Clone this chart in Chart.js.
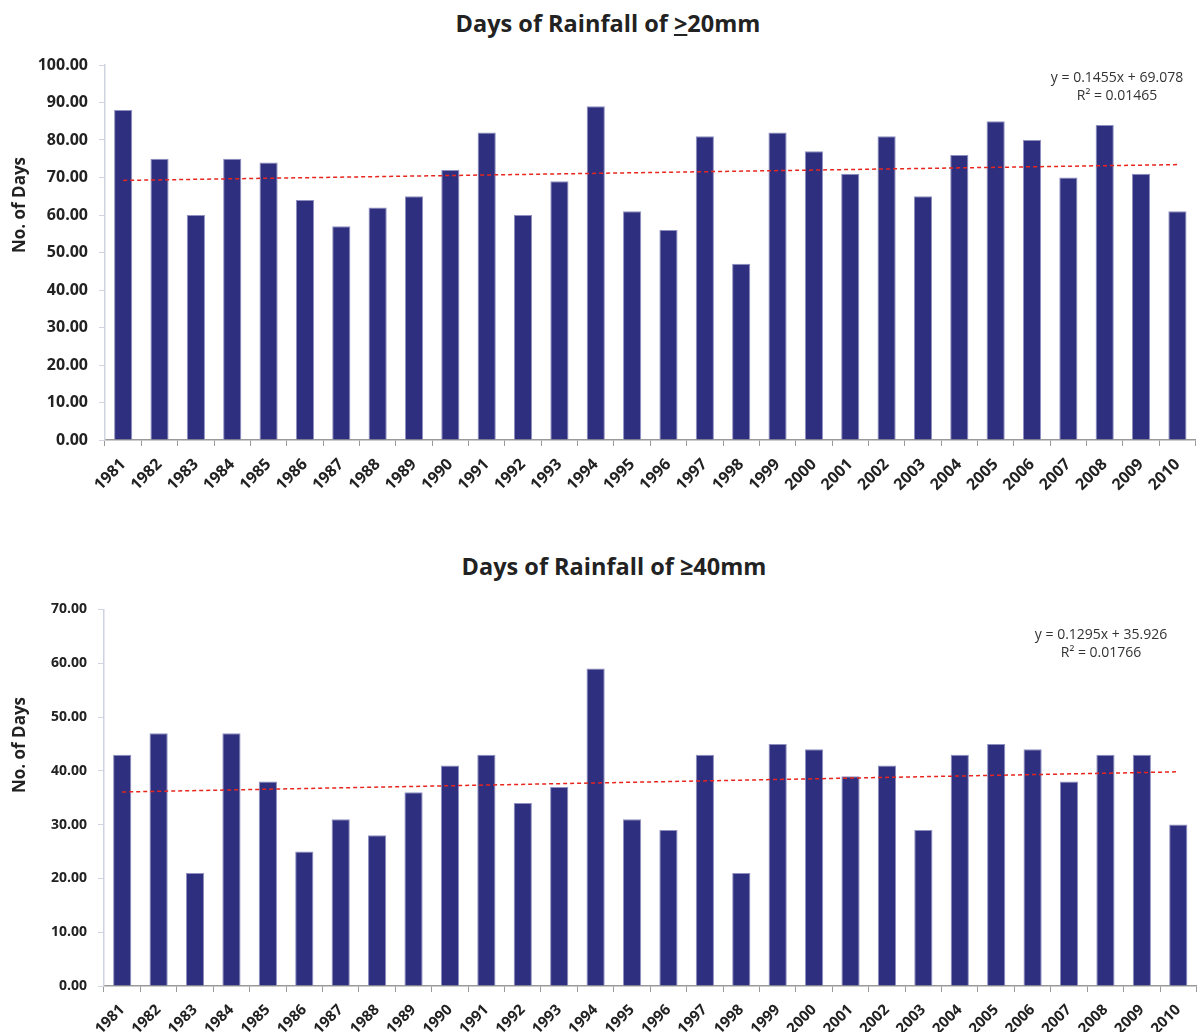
<!DOCTYPE html>
<html>
<head>
<meta charset="utf-8">
<script src="https://cdn.jsdelivr.net/npm/chart.js@4.4.0/dist/chart.umd.min.js"></script>
<style>
  body { margin: 0; background: #fff; font-family: "Open Sans", sans-serif; }
  #page { position: relative; width: 1200px; height: 1032px; overflow: hidden; }
  .title { position: absolute; left: 0; width: 1216px; text-align: center; font-weight: bold; font-size: 23.5px; color: #222; }
  .wrap { position: absolute; left: 0; width: 1200px; }
</style>
</head>
<body>
<div id="page">
  <div class="title" style="top: 7px;">Days of Rainfall of <u>&gt;</u>20mm</div>
  <div class="wrap" style="top: 40px; height: 470px;"><canvas id="rain20"></canvas></div>
  <div class="title" style="top: 550px; width: 1228px;">Days of Rainfall of ≥40mm</div>
  <div class="wrap" style="top: 590px; height: 442px;"><canvas id="rain40"></canvas></div>
</div>
<script>
const years = ['1981','1982','1983','1984','1985','1986','1987','1988','1989','1990',
  '1991','1992','1993','1994','1995','1996','1997','1998','1999','2000',
  '2001','2002','2003','2004','2005','2006','2007','2008','2009','2010'];

const days20 = [88, 75, 60, 75, 74, 64, 57, 62, 65, 72,
  82, 60, 69, 89, 61, 56, 81, 47, 82, 77,
  71, 81, 65, 76, 85, 80, 70, 84, 71, 61];

const days40 = [43, 47, 21, 47, 38, 25, 31, 28, 36, 41,
  43, 34, 37, 59, 31, 29, 43, 21, 45, 44,
  39, 41, 29, 43, 45, 44, 38, 43, 43, 30];

// linear trendline ends (first and last year), as in the picture
const trend20 = [69.22, 73.44];
const trend40 = [36.06, 39.81];

const eq20 = ['y = 0.1455x + 69.078', 'R² = 0.01465'];
const eq40 = ['y = 0.1295x + 35.926', 'R² = 0.01766'];

const barColor = '#2E2F7F';

function trendSeries(ends) {
  return years.map((y, i) => i === 0 ? ends[0] : (i === years.length - 1 ? ends[1] : null));
}

const extraText = {
  id: 'extraText',
  afterDraw(chart, args, opts) {
    const ctx = chart.ctx;
    ctx.save();
    ctx.fillStyle = '#333';
    ctx.font = '14px "Open Sans", sans-serif';
    ctx.textAlign = 'center';
    ctx.textBaseline = 'middle';
    opts.eq.forEach((t, i) => ctx.fillText(t, opts.eqX, opts.eqY + i * 18));
    ctx.translate(opts.axX, opts.axY);
    ctx.rotate(-Math.PI / 2);
    ctx.font = 'bold 17px "Open Sans", sans-serif';
    ctx.fillStyle = '#222';
    ctx.fillText('No. of Days', 0, 0);
    ctx.restore();
  }
};

function makeChart(id, values, trend, maxY, eq, o) {
  return new Chart(document.getElementById(id), {
    type: 'bar',
    data: {
      labels: years,
      datasets: [{
        type: 'line',
        data: trendSeries(trend),
        borderColor: '#E8261E',
        borderWidth: 1.5,
        borderDash: [4, 3],
        pointRadius: 0,
        spanGaps: true,
        fill: false
      }, {
        data: values,
        backgroundColor: barColor,
        borderColor: '#8F90C0',
        borderWidth: { top: 1, left: 1, right: 1, bottom: 0 },
        categoryPercentage: 1,
        barPercentage: 0.5
      }]
    },
    options: {
      responsive: true,
      maintainAspectRatio: false,
      animation: false,
      layout: { padding: { top: o.padTop, right: 0, left: 0, bottom: 0 } },
      plugins: {
        legend: { display: false },
        tooltip: { enabled: false },
        extraText: { eq: eq, eqX: o.eqX, eqY: o.eqY, axX: o.axX, axY: o.axY }
      },
      scales: {
        x: {
          afterFit: s => { s.height = o.xH; },
          border: { color: '#999', width: 1.5 },
          grid: { drawOnChartArea: false, drawTicks: true, tickLength: 6, color: '#999' },
          ticks: {
            minRotation: 45, maxRotation: 45, autoSkip: false,
            color: '#222', padding: o.xPad,
            font: { family: '"Open Sans", sans-serif', weight: 'bold', size: o.xFont }
          }
        },
        y: {
          min: 0, max: maxY,
          afterFit: s => { s.width = o.yW; },
          border: { color: '#D0D4E0', width: 1.5 },
          grid: { drawOnChartArea: false, drawTicks: true, tickLength: 6, color: '#D0D4E0' },
          ticks: {
            stepSize: 10, color: '#222', padding: 11,
            callback: v => v.toFixed(2),
            font: { family: '"Open Sans", sans-serif', weight: 'bold', size: o.yFont }
          }
        }
      }
    },
    plugins: [extraText]
  });
}

makeChart('rain20', days20, trend20, 100, eq20,
  { padTop: 25, xH: 70, yW: 105, xFont: 16, xPad: 9, yFont: 16, eqX: 1117, eqY: 38, axX: 20, axY: 165 });
makeChart('rain40', days40, trend40, 70, eq40,
  { padTop: 12, xH: 46, yW: 104, xFont: 15, xPad: 9, yFont: 14, eqX: 1101, eqY: 45, axX: 20, axY: 155 });
</script>
</body>
</html>
